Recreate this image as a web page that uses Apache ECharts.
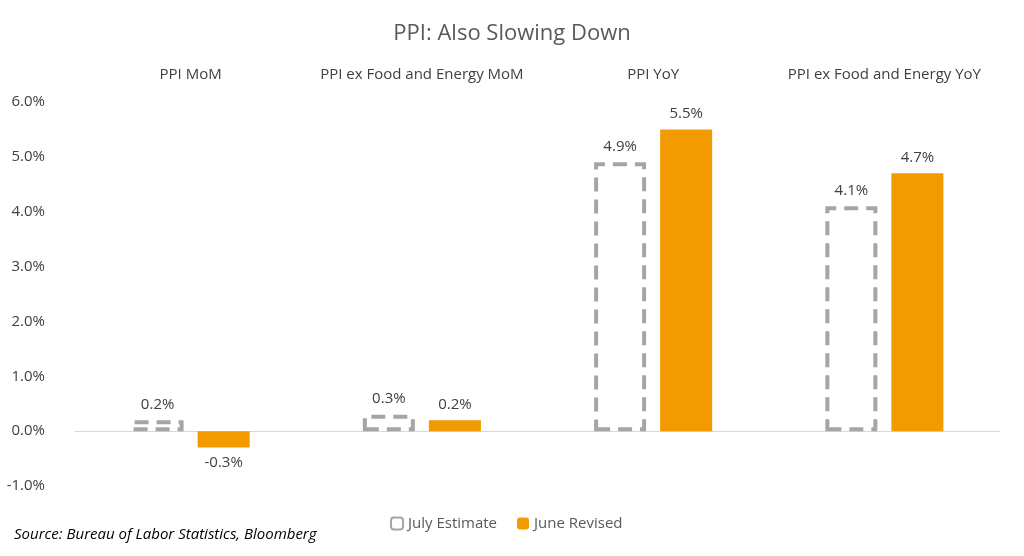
<!DOCTYPE html>
<html><head><meta charset="utf-8">
<script src="https://cdn.jsdelivr.net/npm/echarts@6/dist/echarts.min.js"></script>
<style>html,body{margin:0;padding:0;background:#fff}#c{width:1024px;height:556px}</style>
</head><body><div id="c"></div>
<script>
var categories = ['PPI MoM', 'PPI ex Food and Energy MoM', 'PPI YoY', 'PPI ex Food and Energy YoY'];
var julyEstimate = [0.2, 0.3, 4.9, 4.1];
var juneRevised = [-0.3, 0.2, 5.5, 4.7];

var chart = echarts.init(document.getElementById('c'));
var lbl = {show: true, color: '#404040', fontSize: 15, fontFamily: 'Open Sans',
  formatter: function (p) { return p.value.toFixed(1) + '%'; }};
chart.setOption({
  animation: false,
  textStyle: {fontFamily: 'Open Sans'},
  title: {text: 'PPI: Also Slowing Down', left: 'center', top: 18,
    textStyle: {fontSize: 22, fontWeight: 'normal', color: '#595959', fontFamily: 'Open Sans'}},
  grid: {left: 75, right: 24, top: 102, bottom: 70},
  legend: {bottom: 20, left: 385, itemWidth: 12, itemHeight: 12, itemGap: 20,
    textStyle: {fontSize: 15, color: '#595959'},
    data: ['July Estimate', 'June Revised']},
  graphic: [{type: 'text', left: 14, bottom: 14,
    style: {text: 'Source: Bureau of Labor Statistics, Bloomberg', font: 'italic 15px Open Sans', fill: '#000'}}],
  xAxis: [
    {type: 'category', data: categories, axisLine: {onZero: true, lineStyle: {color: '#d9d9d9'}},
      axisTick: {show: false}, axisLabel: {show: false}},
    {type: 'category', data: categories, position: 'top', axisLine: {show: false}, axisTick: {show: false},
      axisLabel: {color: '#404040', fontSize: 15, margin: 20, interval: 0}}
  ],
  yAxis: {type: 'value', min: -1, max: 6, interval: 1, splitLine: {show: false},
    axisLabel: {color: '#404040', fontSize: 15, margin: 30, formatter: function (v) { return v.toFixed(1) + '%'; }}},
  series: [
    {name: 'July Estimate', type: 'bar', data: julyEstimate, barWidth: 52, barGap: '27%',
      itemStyle: {color: 'rgba(0,0,0,0)', borderColor: '#a5a5a5', borderWidth: 4, borderType: [14, 8]},
      label: Object.assign({position: 'top', distance: 8}, lbl)},
    {name: 'June Revised', type: 'bar', data: juneRevised, barWidth: 52,
      itemStyle: {color: '#f29b00'},
      label: Object.assign({position: 'top', distance: 8}, lbl)}
  ]
});
chart.setOption({series: [{}, {data: juneRevised.map(function (v) {
  return v < 0 ? {value: v, label: {position: 'bottom'}} : v; })}]});
</script></body></html>
